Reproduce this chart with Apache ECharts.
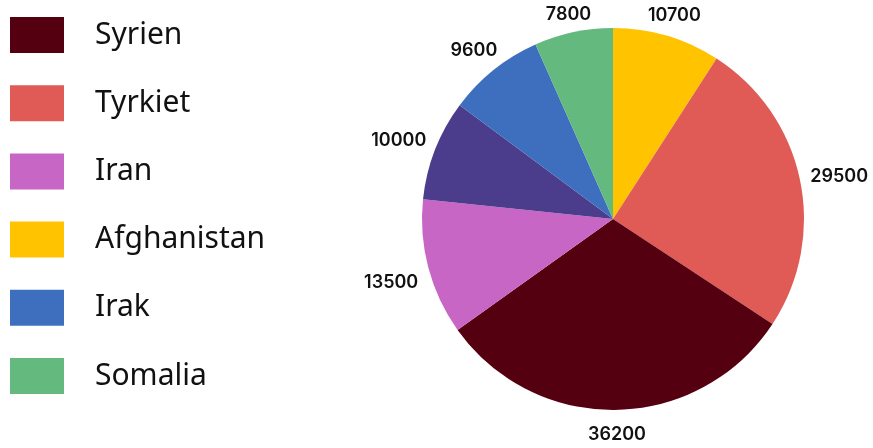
<!DOCTYPE html>
<html>
<head>
<meta charset="utf-8">
<script src="https://cdn.jsdelivr.net/npm/echarts@6/dist/echarts.min.js"></script>
<style>
html,body{margin:0;padding:0;background:#fff;}
#chart{width:873px;height:448px;}
</style>
</head>
<body>
<div id="chart"></div>
<script>
// Slices in drawing order (clockwise from top)
const categories = ['Afghanistan', 'Tyrkiet', 'Syrien', 'Iran', 'Övrigt', 'Irak', 'Somalia'];
const values = [10700, 29500, 36200, 13500, 10000, 9600, 7800];
const sliceColors = ['#FFC300', '#E05B56', '#550010', '#C766C5', '#4B3D8B', '#3E6FBF', '#64B97E'];
// Legend entries (in legend order)
const legendNames = ['Syrien', 'Tyrkiet', 'Iran', 'Afghanistan', 'Irak', 'Somalia'];

const chart = echarts.init(document.getElementById('chart'), null, {renderer: 'canvas'});

const data = categories.map((c, i) => ({
  name: c,
  value: values[i],
  itemStyle: {color: sliceColors[i]}
}));

const GAP = 10;

chart.setOption({
  animation: false,
  backgroundColor: '#ffffff',
  legend: {
    orient: 'vertical',
    left: 10,
    top: 17,
    padding: 0,
    data: legendNames,
    icon: 'rect',
    itemWidth: 54,
    itemHeight: 36,
    itemGap: 32.2,
    selectedMode: false,
    textStyle: {
      fontFamily: 'Noto Sans',
      fontSize: 30,
      color: '#111111',
      lineHeight: 36,
      padding: [0, 0, 0, 26]
    }
  },
  series: [{
    type: 'pie',
    center: [613, 219],
    radius: 191,
    startAngle: 90,
    clockwise: true,
    avoidLabelOverlap: false,
    silent: true,
    data: data,
    label: {
      show: true,
      position: 'outside',
      formatter: '{c}',
      fontFamily: 'Inter',
      fontWeight: 600,
      fontSize: 18,
      color: '#111111'
    },
    labelLine: {
      show: true,
      length: GAP,
      length2: 0,
      lineStyle: {width: 0, opacity: 0}
    },
    labelLayout: function (params) {
      const pts = params.labelLinePoints;
      if (!pts) return {};
      const p0 = pts[0], p1 = pts[1];
      let dx = p1[0] - p0[0], dy = p1[1] - p0[1];
      const len = Math.sqrt(dx * dx + dy * dy) || 1;
      dx /= len; dy /= len;
      const w = params.labelRect.width, h = params.labelRect.height;
      const off = Math.abs(dx) * w / 2 + Math.abs(dy) * h / 2;
      return {
        x: p1[0] + dx * off,
        y: p1[1] + dy * off + 5,
        align: 'center',
        verticalAlign: 'middle'
      };
    }
  }]
});
</script>
</body>
</html>
